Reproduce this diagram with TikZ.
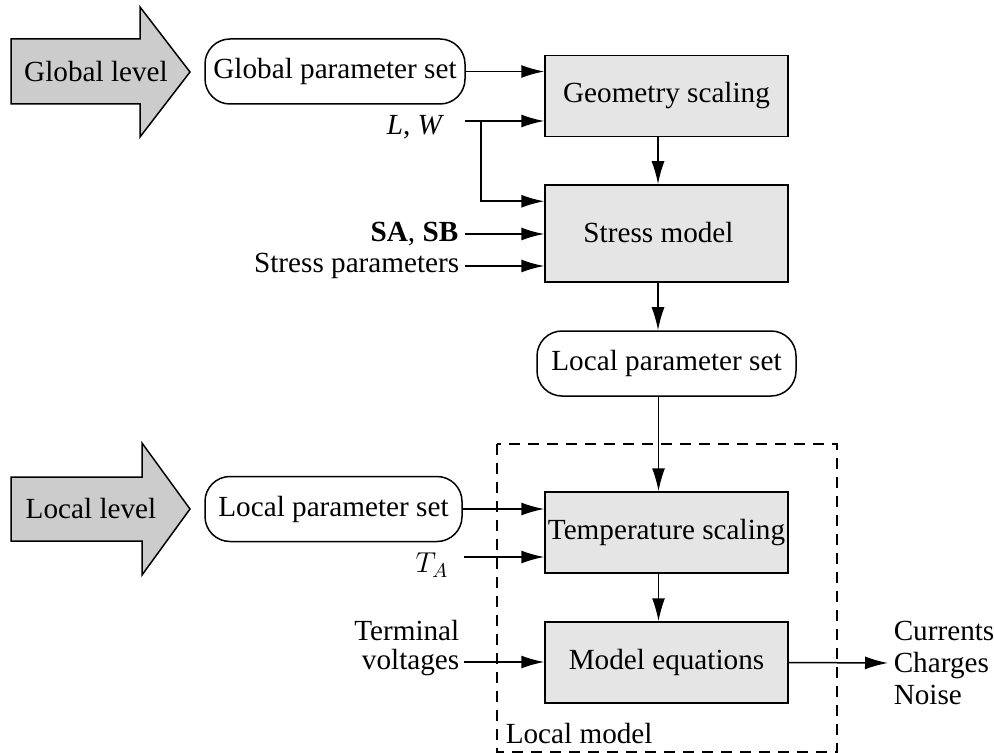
\documentclass[tikz,border=0pt]{standalone}
\usepackage{fontspec}
\setmainfont{Liberation Serif}
\usetikzlibrary{arrows.meta,calc}
\definecolor{boxgray}{gray}{0.9}
\definecolor{arrgray}{gray}{0.8}
\begin{document}
\begin{tikzpicture}[x=0.5pt,y=-0.5pt,
  font=\fontsize{14.6}{17}\selectfont,
  line width=0.75pt,
  >={Latex[length=11.5pt,width=6.5pt]},
  gbox/.style={draw, fill=boxgray, minimum width=121.5pt, minimum height=40.5pt, inner sep=0pt},
  rbox/.style={draw, fill=white, rounded corners=12.5pt, minimum height=32.5pt, inner sep=0pt},
  bigarrow/.style={draw, fill=arrgray, line width=0.75pt},
  lbl/.style={inner sep=0pt},
  conn/.style={->},
  dashbox/.style={draw, dash pattern=on 5.5pt off 4pt, line width=0.7pt}
]
\useasboundingbox (0,0) rectangle (994,753);

% big block arrows
\draw[bigarrow] (11,39) -- (140,39) -- (140,7) -- (190,72) -- (140,137) -- (140,104) -- (11,104) -- cycle;
\node[lbl] (glevel) at (96,72) {Global level};
\draw[bigarrow] (11,477) -- (142,477) -- (142,443) -- (190,509) -- (142,575) -- (142,541) -- (11,541) -- cycle;
\node[lbl] (llevel) at (91,509) {Local level};

% local model dashed frame
\draw[dashbox] (497,444) rectangle (837,752);
\node[lbl, anchor=base west] (lmlabel) at (505,743) {Local model};

% rounded parameter boxes
\node[rbox, minimum width=130pt] (gps) at (335,71.5) {Global parameter set};
\node[rbox, minimum width=129.5pt] (lpsmid) at (666.5,363.5) {Local parameter set};
\node[rbox, minimum width=128.5pt] (lps) at (333.5,509) {Local parameter set};

% grey blocks
\node[gbox] (geo) at (666.5,96) {Geometry scaling};
\node[gbox, minimum height=48.5pt] (stress) at (666.5,233.5) {};
\node[lbl] (stresstxt) at (658.5,233) {Stress model};
\node[gbox] (temp) at (666.5,532.5) {Temperature scaling};
\node[gbox] (model) at (666.5,662.5) {Model equations};

% input labels
\node[lbl, anchor=east] (lwlbl) at (445,127) {\textit{L}, \textit{W}};
\node[lbl, anchor=east] (sasb) at (459,234) {\textbf{SA}, \textbf{SB}};
\node[lbl, anchor=east] (sparam) at (460,266) {Stress parameters};
\node[lbl, anchor=east] (ta) at (449,565) {$T_A$};
\node[lbl, anchor=east, align=right, font=\fontsize{14.6}{14.5}\selectfont] (tv) at (460,648) {Terminal\\voltages};
\node[lbl, anchor=west, align=left, font=\fontsize{14.6}{15.8}\selectfont] (out) at (893,663) {Currents\\Charges\\Noise};

\coordinate (lwstart) at (465,121);
\coordinate (lwbranch) at (481,121);
\coordinate (tastart) at (464,557);
\coordinate (tvstart) at (464,662);
\coordinate (outend) at (888,663);

% connectors
\draw[conn] (gps.east) -- (gps.east -| geo.west);
\draw[conn] (lwstart) -- (lwstart -| geo.west);
\draw[conn] (lwbranch) |- ($(stress.north west)+(0,17)$);
\draw[conn] (sasb.east) ++(6,0) -- (sasb.east -| stress.west);
\draw[conn] (sparam.east) ++(5,0) -- (sparam.east -| stress.west);
\draw[conn] ($(geo.south)+(-8.5,0)$) -- ($(stress.north)+(-8.5,0)$);
\draw[conn] ($(stress.south)+(-8.5,0)$) -- ($(lpsmid.north)+(-8.5,0)$);
\draw[conn] ($(lpsmid.south)+(-8,0)$) -- ($(temp.north)+(-8,0)$);
\draw[conn] (lps.east) -- (lps.east -| temp.west);
\draw[conn] (tastart) -- (tastart -| temp.west);
\draw[conn] ($(temp.south)+(-8,0)$) -- ($(model.north)+(-8,0)$);
\draw[conn] (tvstart) -- (tvstart -| model.west);
\draw[conn] (model.east) -- (outend);
\end{tikzpicture}
\end{document}
